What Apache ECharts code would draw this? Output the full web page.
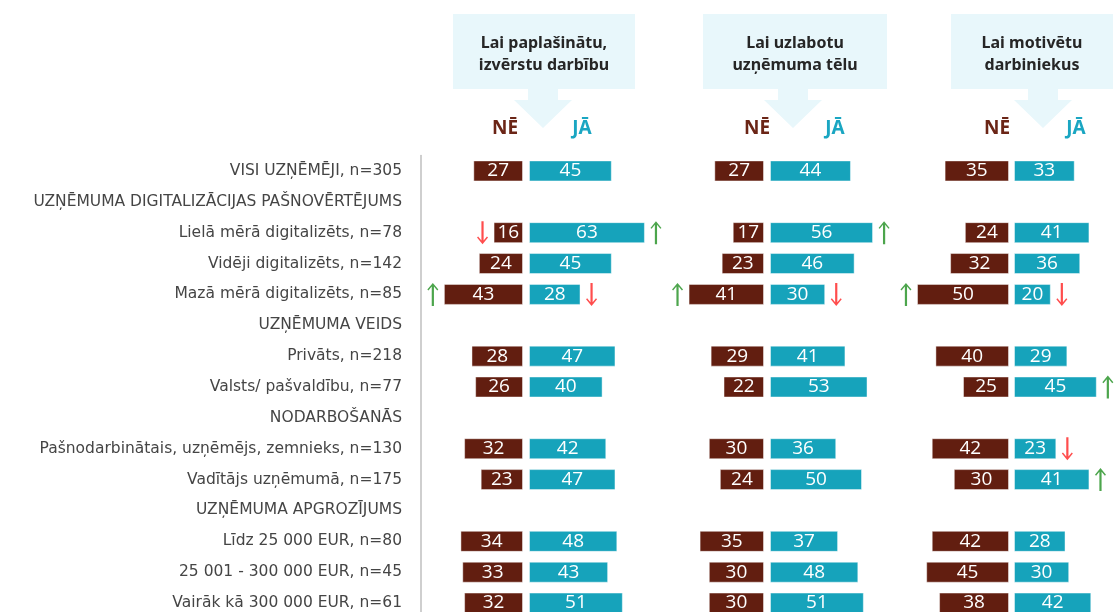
<!DOCTYPE html>
<html>
<head>
<meta charset="utf-8">
<script src="https://cdn.jsdelivr.net/npm/echarts@6/dist/echarts.min.js"></script>
<style>
    html, body { margin: 0; padding: 0; background: #fff; }
    #chart { width: 1119px; height: 612px; }
</style>
</head>
<body>
<div id="chart"></div>
<script>
var rows = [
    'VISI UZŅĒMĒJI, n=305',
    'UZŅĒMUMA DIGITALIZĀCIJAS PAŠNOVĒRTĒJUMS',
    'Lielā mērā digitalizēts, n=78',
    'Vidēji digitalizēts, n=142',
    'Mazā mērā digitalizēts, n=85',
    'UZŅĒMUMA VEIDS',
    'Privāts, n=218',
    'Valsts/ pašvaldību, n=77',
    'NODARBOŠANĀS',
    'Pašnodarbinātais, uzņēmējs, zemnieks, n=130',
    'Vadītājs uzņēmumā, n=175',
    'UZŅĒMUMA APGROZĪJUMS',
    'Līdz 25 000 EUR, n=80',
    '25 001 - 300 000 EUR, n=45',
    'Vairāk kā 300 000 EUR, n=61'
];
var titles = ['Lai paplašinātu,\nizvērstu darbību', 'Lai uzlabotu\nuzņēmuma tēlu', 'Lai motivētu\ndarbiniekus'];

var ne1 = [27, null, 16, 24, 43, null, 28, 26, null, 32, 23, null, 34, 33, 32];
var ja1 = [45, null, 63, 45, 28, null, 47, 40, null, 42, 47, null, 48, 43, 51];
var ne2 = [27, null, 17, 23, 41, null, 29, 22, null, 30, 24, null, 35, 30, 30];
var ja2 = [44, null, 56, 46, 30, null, 41, 53, null, 36, 50, null, 37, 48, 51];
var ne3 = [35, null, 24, 32, 50, null, 40, 25, null, 42, 30, null, 42, 45, 38];
var ja3 = [33, null, 41, 36, 20, null, 29, 45, null, 23, 41, null, 28, 30, 42];

// significance arrows: 1 = up, -1 = down
var neSig1 = [0, 0, -1, 0, 1, 0, 0, 0, 0, 0, 0, 0, 0, 0, 0];
var jaSig1 = [0, 0, 1, 0, -1, 0, 0, 0, 0, 0, 0, 0, 0, 0, 0];
var neSig2 = [0, 0, 0, 0, 1, 0, 0, 0, 0, 0, 0, 0, 0, 0, 0];
var jaSig2 = [0, 0, 1, 0, -1, 0, 0, 0, 0, 0, 0, 0, 0, 0, 0];
var neSig3 = [0, 0, 0, 0, 1, 0, 0, 0, 0, 0, 0, 0, 0, 0, 0];
var jaSig3 = [0, 0, 0, 0, -1, 0, 0, 1, 0, -1, 1, 0, 0, 0, 0];

(function () {
    var myChart = echarts.init(document.getElementById('chart'));
    var brown = '#621e10';
    var teal = '#16a3bb';
    var k = 1.84;          // px per percent
    var top = 155.5, h = 463;
    var arrowPath = 'path://M5,0L10,7L9,8L6,3.8L6,24L4,24L4,3.8L1,8L0,7Z';

    var panels = [
        { ne: ne1, ja: ja1, neSig: neSig1, jaSig: jaSig1, split: [523, 529], jaW: 130, tip: 543, box: [453, 635], neX: 505, jaX: 582 },
        { ne: ne2, ja: ja2, neSig: neSig2, jaSig: jaSig2, split: [764, 770], jaW: 130, tip: 793, box: [703, 887], neX: 757, jaX: 835 },
        { ne: ne3, ja: ja3, neSig: neSig3, jaSig: jaSig3, split: [1009, 1014], jaW: 105, tip: 1043, box: [951, 1113], neX: 997, jaX: 1076 }
    ];

    var grid = [{ left: 421, width: 1, top: top, height: h, outerBoundsMode: 'none' }];
    var xAxis = [{ gridIndex: 0, type: 'value', show: false }];
    var yAxis = [{
        gridIndex: 0, type: 'category', data: rows, inverse: true, position: 'left',
        axisLine: { show: true, onZero: false, lineStyle: { color: '#bfbfbf', width: 1.5 } },
        axisTick: { show: false },
        axisLabel: { margin: 19, color: '#454545', fontSize: 15.5, fontFamily: 'DejaVu Sans' }
    }];
    var series = [];
    var graphic = [];

    function arrows(vals, sig) {
        var out = [];
        sig.forEach(function (s, i) {
            if (s) out.push({ value: [vals[i] + 6, i], symbolRotate: s > 0 ? 0 : 180, itemStyle: { color: s > 0 ? '#1f8f1f' : '#ff2020' } });
        });
        return out;
    }

    panels.forEach(function (p, pi) {
        var halves = [
            { vals: p.ne, sig: p.neSig, color: brown, left: p.split[0] - 110, width: 110, inverse: true },
            { vals: p.ja, sig: p.jaSig, color: teal, left: p.split[1], width: p.jaW, inverse: false }
        ];
        halves.forEach(function (hf) {
            var gi = grid.length;
            grid.push({ left: hf.left, width: hf.width, top: top, height: h, outerBoundsMode: 'none' });
            xAxis.push({ gridIndex: gi, type: 'value', min: 0, max: hf.width / k, inverse: hf.inverse, show: false });
            yAxis.push({ gridIndex: gi, type: 'category', data: rows, inverse: true, show: false });
            series.push({
                type: 'bar', xAxisIndex: gi, yAxisIndex: gi, data: hf.vals, barWidth: 21,
                itemStyle: { color: hf.color, borderColor: 'rgba(255,255,255,0.45)', borderWidth: 1 },
                label: { show: true, position: 'inside', color: '#fff', fontSize: 19, fontFamily: 'Open Sans' },
                silent: true
            });
            series.push({
                type: 'scatter', xAxisIndex: gi, yAxisIndex: gi, data: arrows(hf.vals, hf.sig),
                symbol: arrowPath, symbolSize: [11, 23], silent: true
            });
        });

        // header callout
        graphic.push({
            type: 'rect', shape: { x: p.box[0], y: 14, width: p.box[1] - p.box[0], height: 75 },
            style: { fill: '#e8f7fb' }, z: -1
        });
        graphic.push({
            type: 'polygon',
            shape: { points: [[p.tip - 15, 89], [p.tip + 15, 89], [p.tip + 15, 100], [p.tip + 29, 100], [p.tip, 128], [p.tip - 29, 100], [p.tip - 15, 100]] },
            style: { fill: '#e8f7fb' }, z: -1
        });
        graphic.push({
            type: 'text', x: (p.box[0] + p.box[1]) / 2, y: 54,
            style: {
                text: titles[pi], fill: '#262626', fontSize: 16, fontWeight: 'bold', fontFamily: 'Noto Sans',
                lineHeight: 22, align: 'center', verticalAlign: 'middle'
            }
        });
        graphic.push({
            type: 'text', x: p.neX, y: 129,
            style: { text: 'NĒ', fill: '#6b2516', fontSize: 19, fontWeight: 'bold', fontFamily: 'Noto Sans', align: 'center', verticalAlign: 'middle' }
        });
        graphic.push({
            type: 'text', x: p.jaX, y: 129,
            style: { text: 'JĀ', fill: '#1aa6c2', fontSize: 19, fontWeight: 'bold', fontFamily: 'Noto Sans', align: 'center', verticalAlign: 'middle' }
        });
    });

    myChart.setOption({
        animation: false,
        grid: grid,
        xAxis: xAxis,
        yAxis: yAxis,
        series: series,
        graphic: graphic
    });
})();
</script>
</body>
</html>
